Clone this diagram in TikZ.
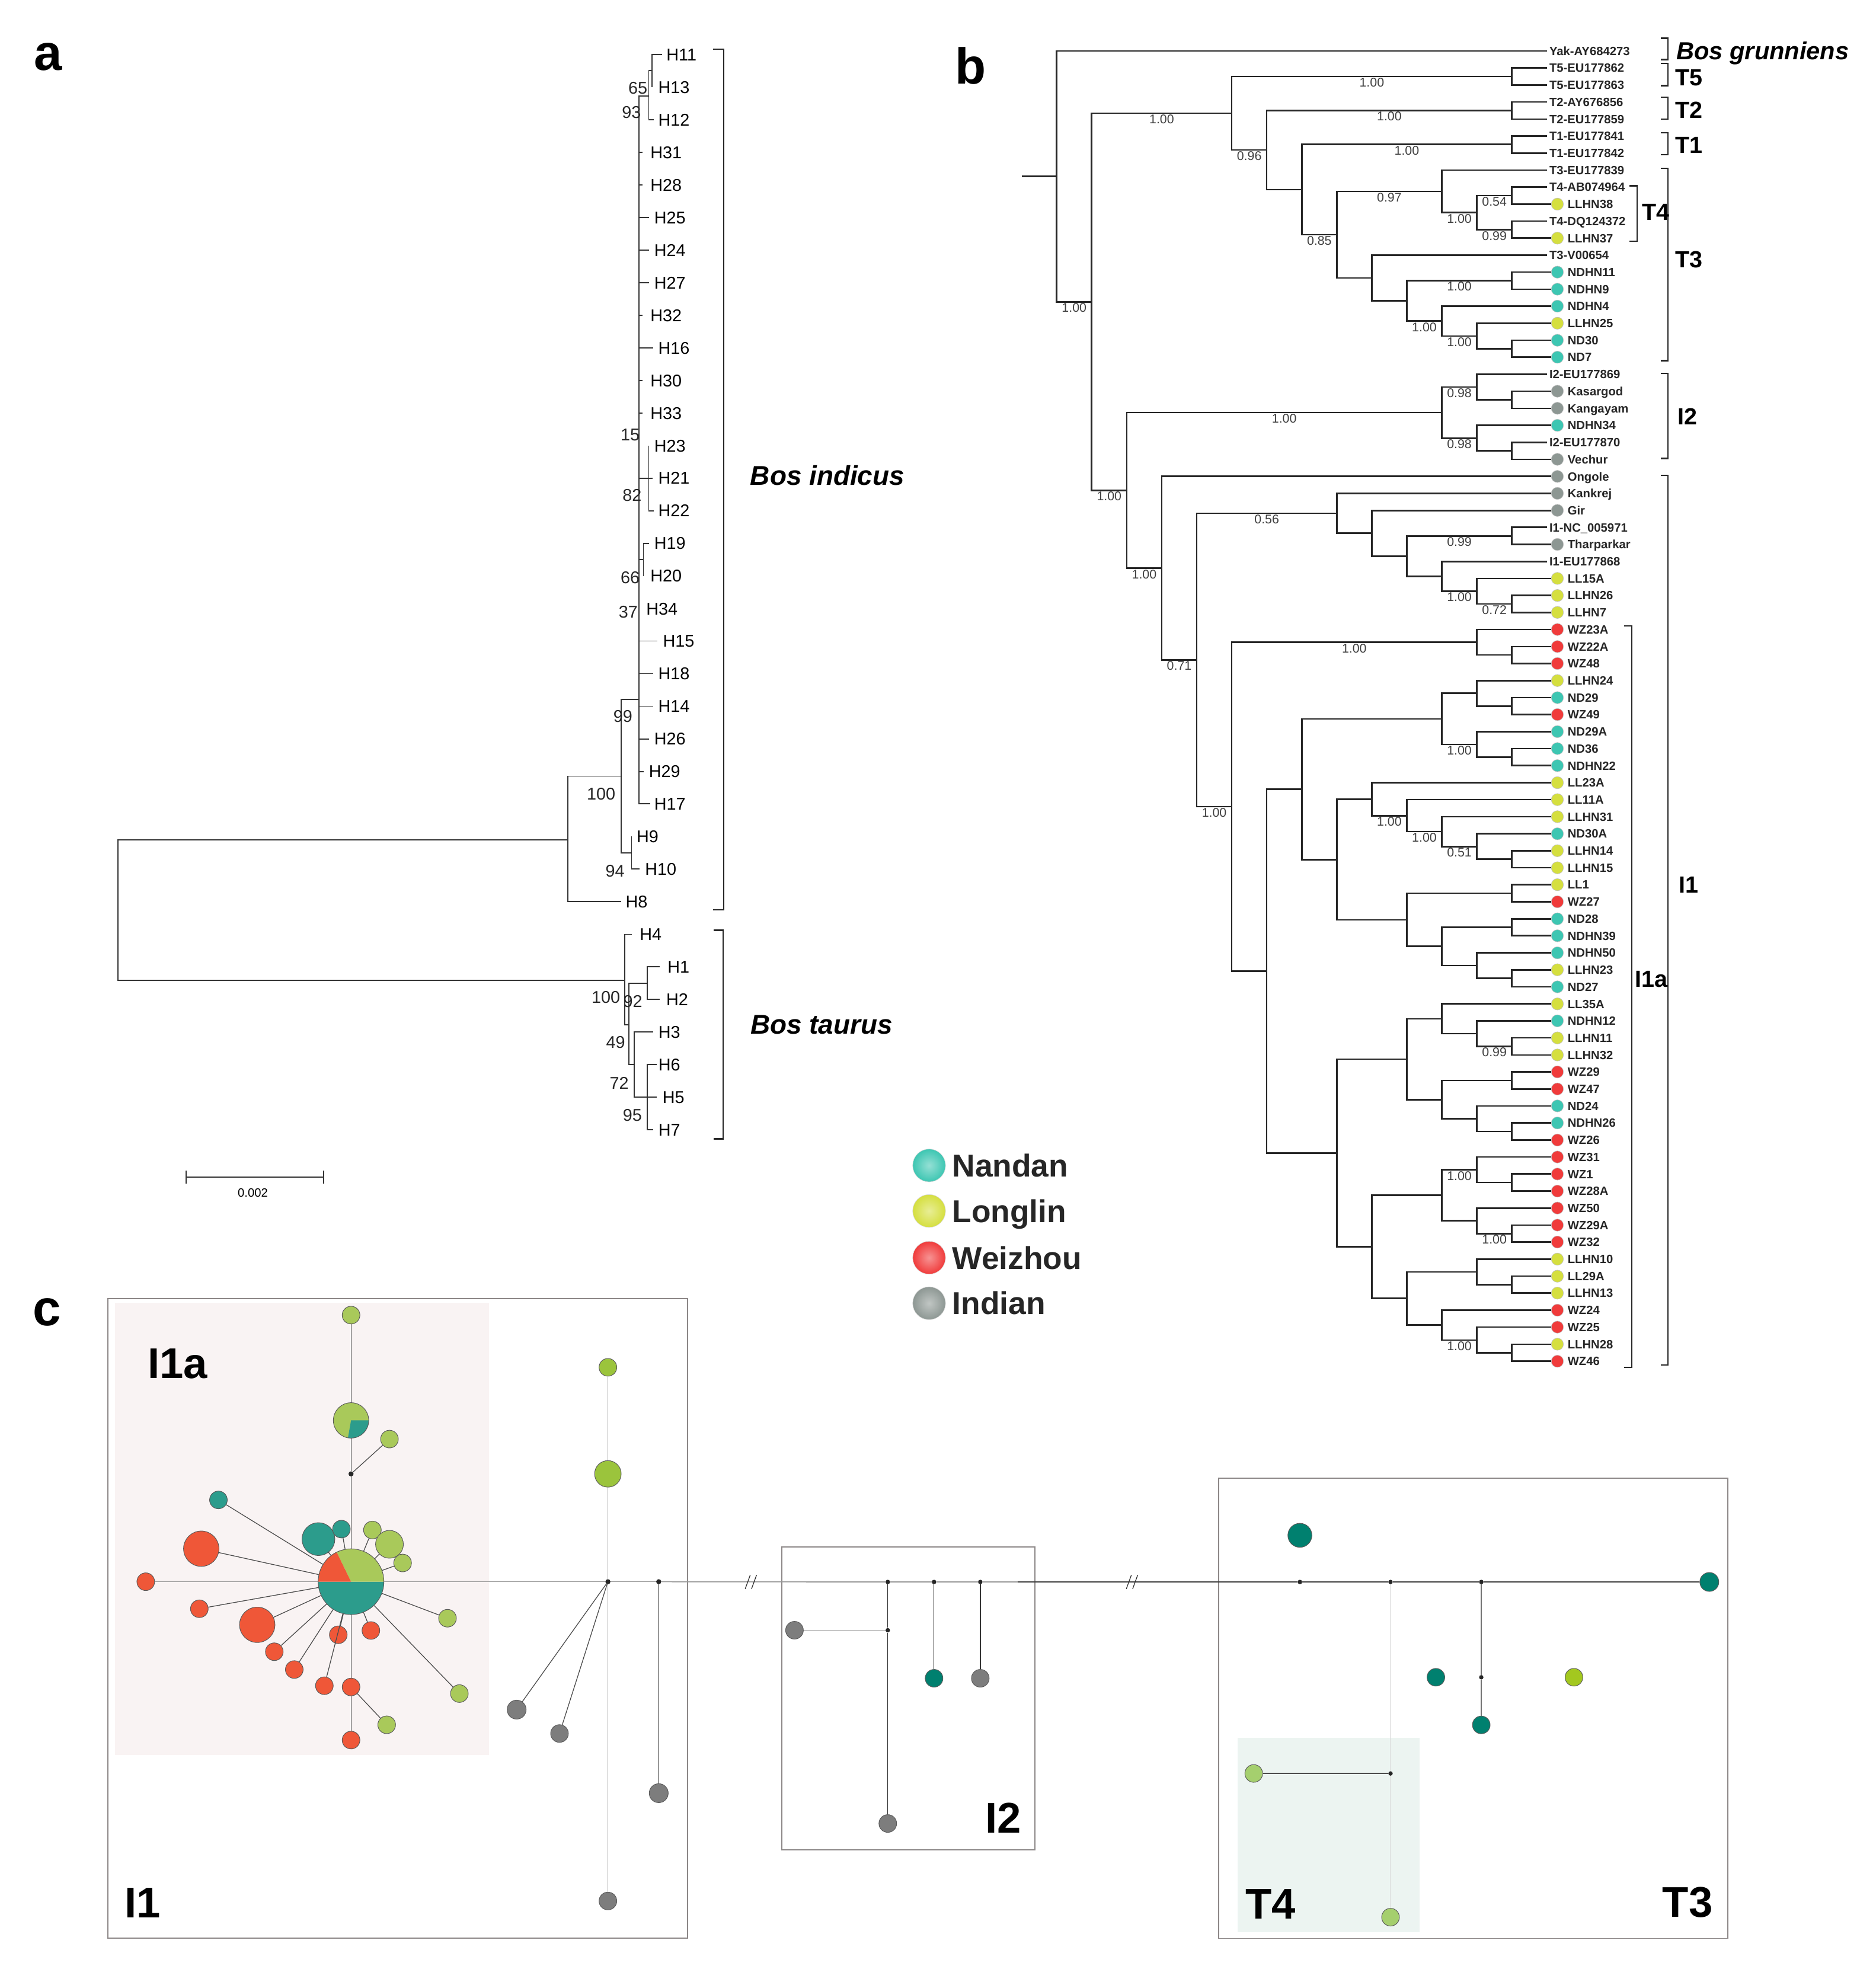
\documentclass[tikz,border=0pt]{standalone}
\usepackage{fontspec}
\setmainfont{Liberation Sans}
\usetikzlibrary{positioning}
\definecolor{nandan}{HTML}{3DC6B2}
\definecolor{longlin}{HTML}{D5DF3F}
\definecolor{weizhou}{HTML}{F03B3B}
\definecolor{indian}{HTML}{8D9793}
\definecolor{nettealc}{HTML}{2C9C8C}
\definecolor{netgreen}{HTML}{A9C95A}
\definecolor{netred}{HTML}{EF5738}
\definecolor{netgray}{HTML}{7D7D7D}
\definecolor{netlime}{HTML}{9BC43C}
\definecolor{netteal}{HTML}{00806F}
\definecolor{netyel}{HTML}{A3C81F}
\definecolor{netpale}{HTML}{A5CF6E}
\definecolor{pinkbg}{HTML}{F9F3F3}
\definecolor{mintbg}{HTML}{ECF4F1}
\definecolor{framegray}{HTML}{8C8787}
\tikzset{
  branch/.style={line width=1.25pt, draw=black!85},
  brancha/.style={line width=0.9pt, draw=black!80},
  support/.style={below, inner sep=0.6pt, font={\fontsize{10}{10}\selectfont}, text=black!75},
  leaf/.style={anchor=west, inner xsep=1.5pt, inner ysep=0pt, text height=6.8pt, text depth=0pt, text=black!85, font={\fontsize{9.5}{9.5}\selectfont\bfseries}},
  tdot/.style={circle, inner sep=0pt, minimum size=9.6pt, draw=black!25, line width=0.3pt},
  hlab/.style={anchor=west, inner sep=0pt, text height=9.7pt, text depth=0pt, font={\fontsize{13.5}{13.5}\selectfont}},
  boot/.style={inner sep=0pt, text height=9.7pt, text depth=0pt, text=black!85, font={\fontsize{13.5}{13.5}\selectfont}},
  clade/.style={line width=1.1pt, draw=black!85},
  cladelab/.style={anchor=base west, inner sep=0pt, font={\fontsize{18.5}{18.5}\selectfont\bfseries}},
  species/.style={anchor=base west, inner sep=0pt, font={\fontsize{21.5}{21.5}\selectfont\bfseries\itshape}},
  panel/.style={inner sep=0pt, font={\fontsize{40}{40}\selectfont\bfseries}},
  legdot/.style={circle, inner sep=0pt, minimum size=26pt, draw=black!15, line width=0.3pt},
  legtext/.style={inner sep=0pt, text height=18pt, text depth=0pt, text=black!85, font={\fontsize{25}{25}\selectfont\bfseries}},
  hap/.style={circle, inner sep=0pt, draw=black!65, line width=0.45pt},
  pienode/.style={circle, inner sep=0pt},
  mvec/.style={circle, fill=black!85, inner sep=0pt, minimum size=4pt},
  netl/.style={draw=black!70, line width=0.6pt},
  mainl/.style={draw=black!40, line width=0.8pt},
  darkl/.style={draw=black!75, line width=1.2pt},
  palel/.style={draw=black!15, line width=0.5pt},
  framebox/.style={draw=framegray, line width=0.9pt},
  reglab/.style={inner sep=0pt, font={\fontsize{34}{34}\selectfont\bfseries}},
}
\begin{document}
\begin{tikzpicture}[x=1pt,y=-1pt]
\useasboundingbox (0,0) rectangle (1484,1568);
\fill[white] (0,0) rectangle (1484,1568);

% panel letters
\node[panel] (pa) at (38,45) {a};
\node[panel] (pb) at (768,52) {b};
\node[panel] (pc) at (37,1038) {c};

% ---------------- tree a ----------------
\coordinate (ar) at (93.3,720.2);
\coordinate (ai) at (449.3,664.5);
\coordinate (a99) at (491.2,614.0);
\coordinate (am) at (505.5,553.5);
\coordinate (ab) at (513.2,75.9);
\coordinate (aa) at (515.9,56.0);
\coordinate (ad) at (513.2,378.2);
\coordinate (ae) at (509.0,442.7);
\coordinate (a94) at (499.6,674.7);
\coordinate (at) at (494.4,775.6);
\coordinate (at2) at (497.7,810.8);
\coordinate (at3) at (512.1,777.8);
\coordinate (at4) at (501.6,842.3);
\coordinate (at5) at (512.1,868.1);
\coordinate (e11) at (523.7,43.1);
\coordinate (e13) at (515.9,68.9);
\coordinate (e12) at (517.4,94.7);
\coordinate (e31) at (508.4,120.4);
\coordinate (e28) at (508.4,146.2);
\coordinate (e25) at (513.6,172.0);
\coordinate (e24) at (513.6,197.8);
\coordinate (e27) at (513.6,223.6);
\coordinate (e32) at (508.4,249.3);
\coordinate (e16) at (516.8,275.1);
\coordinate (e30) at (508.4,300.9);
\coordinate (e33) at (508.4,326.7);
\coordinate (e23) at (513.2,352.5);
\coordinate (e21) at (516.3,378.2);
\coordinate (e22) at (517.4,404.0);
\coordinate (e19) at (513.6,429.8);
\coordinate (e20) at (509.0,455.6);
\coordinate (e34) at (505.5,481.4);
\coordinate (e15) at (520.1,507.1);
\coordinate (e18) at (516.8,532.9);
\coordinate (e14) at (516.8,558.7);
\coordinate (e26) at (513.6,584.5);
\coordinate (e29) at (509.0,610.3);
\coordinate (e17) at (514.2,636.0);
\coordinate (e9) at (499.6,661.8);
\coordinate (e10) at (505.9,687.6);
\coordinate (e8) at (491.2,713.4);
\coordinate (e4) at (500.0,739.2);
\coordinate (e1) at (521.7,764.9);
\coordinate (e2) at (521.7,790.7);
\coordinate (e3) at (516.9,816.5);
\coordinate (e6) at (519.3,842.3);
\coordinate (e5) at (519.3,868.1);
\coordinate (e7) at (516.9,893.8);

\draw[brancha] (ar) |- (ai) (ar) |- (at);
\draw[brancha] (ai) |- (a99) (ai) |- (e8);
\draw[brancha] (a99) |- (am) (a99) |- (a94);
\draw[brancha] (a94) |- (e9) (a94) |- (e10);
\draw[brancha] (am) |- (ab) (am) |- (e31) (am) |- (e28) (am) |- (e25) (am) |- (e24) (am) |- (e27) (am) |- (e32) (am) |- (e16) (am) |- (e30) (am) |- (e33) (am) |- (ad) (am) |- (ae) (am) |- (e34) (am) |- (e15) (am) |- (e18) (am) |- (e14) (am) |- (e26) (am) |- (e29) (am) |- (e17);
\draw[brancha] (ab) |- (aa) (ab) |- (e12);
\draw[brancha] (aa) |- (e11) (aa) |- (e13);
\draw[brancha] (ad) |- (e23) (ad) -- (e21) (ad) |- (e22);
\draw[brancha] (ae) |- (e19) (ae) |- (e20);
\draw[brancha] (at) |- (e4) (at) |- (at2);
\draw[brancha] (at2) |- (at3) (at2) |- (at4);
\draw[brancha] (at3) |- (e1) (at3) |- (e2);
\draw[brancha] (at4) |- (e3) (at4) |- (at5);
\draw[brancha] (at5) |- (e6) (at5) -- (e5) (at5) |- (e7);

\node[hlab] (h11) at (527,43.1) {H11};
\node[hlab] (h13) at (520.6,68.9) {H13};
\node[hlab] (h12) at (520.6,94.7) {H12};
\node[hlab] (h31) at (514.3,120.4) {H31};
\node[hlab] (h28) at (514.3,146.2) {H28};
\node[hlab] (h25) at (517.4,172.0) {H25};
\node[hlab] (h24) at (517.4,197.8) {H24};
\node[hlab] (h27) at (517.4,223.6) {H27};
\node[hlab] (h32) at (514.3,249.3) {H32};
\node[hlab] (h16) at (520.6,275.1) {H16};
\node[hlab] (h30) at (514.3,300.9) {H30};
\node[hlab] (h33) at (514.3,326.7) {H33};
\node[hlab] (h23) at (517.4,352.5) {H23};
\node[hlab] (h21) at (520.6,378.2) {H21};
\node[hlab] (h22) at (520.6,404.0) {H22};
\node[hlab] (h19) at (517.4,429.8) {H19};
\node[hlab] (h20) at (514.3,455.6) {H20};
\node[hlab] (h34) at (511.1,481.4) {H34};
\node[hlab] (h15) at (524.3,507.1) {H15};
\node[hlab] (h18) at (520.6,532.9) {H18};
\node[hlab] (h14) at (520.6,558.7) {H14};
\node[hlab] (h26) at (517.4,584.5) {H26};
\node[hlab] (h29) at (513.2,610.3) {H29};
\node[hlab] (h17) at (517.4,636.0) {H17};
\node[hlab] (h9) at (503.4,661.8) {H9};
\node[hlab] (h10) at (510.1,687.6) {H10};
\node[hlab] (h8) at (494.8,713.4) {H8};
\node[hlab] (h4) at (505.9,739.2) {H4};
\node[hlab] (h1) at (527.9,764.9) {H1};
\node[hlab] (h2) at (526.9,790.7) {H2};
\node[hlab] (h3) at (520.7,816.5) {H3};
\node[hlab] (h6) at (520.7,842.3) {H6};
\node[hlab] (h5) at (524,868.1) {H5};
\node[hlab] (h7) at (520.7,893.8) {H7};

\node[boot] (b65) at (504.6,69.6) {65};
\node[boot] (b93) at (499.5,88.5) {93};
\node[boot] (b15) at (498.5,343.6) {15};
\node[boot] (b82) at (500,391.5) {82};
\node[boot] (b66) at (498.5,456.6) {66};
\node[boot] (b37) at (497,484.1) {37};
\node[boot] (b99) at (492.8,566.6) {99};
\node[boot] (b100i) at (475.5,627.7) {100};
\node[boot] (b94) at (486.5,688.8) {94};
\node[boot] (b100t) at (479.3,788.8) {100};
\node[boot] (b92) at (500.6,792) {92};
\node[boot] (b49) at (487,824.4) {49};
\node[boot] (b72) at (489.8,856.9) {72};
\node[boot] (b95) at (500.2,882) {95};

\draw[clade] (564.1,39) -- (572.5,39) -- (572.5,719.8) -- (564.1,719.8);
\draw[clade] (564.7,735.9) -- (572,735.9) -- (572,900.9) -- (564.7,900.9);
\node[species] (bind) at (593.4,383.6) {Bos indicus};
\node[species] (btau) at (593.5,818.2) {Bos taurus};

% scale bar
\draw[brancha] (147.4,931.2) -- (256,931.2);
\draw[brancha] (147.4,926) -- (147.4,936.4);
\draw[brancha] (256,926) -- (256,936.4);
\node[inner sep=0pt, font={\fontsize{9.5}{9.5}\selectfont}] (sbar) at (200,943.5) {0.002};

% ---------------- tree b ----------------
\node[leaf] (l1) at (1224,40.3) {Yak-AY684273};
\node[leaf] (l2) at (1224,53.8) {T5-EU177862};
\node[leaf] (l3) at (1224,67.2) {T5-EU177863};
\node[leaf] (l4) at (1224,80.7) {T2-AY676856};
\node[leaf] (l5) at (1224,94.2) {T2-EU177859};
\node[leaf] (l6) at (1224,107.6) {T1-EU177841};
\node[leaf] (l7) at (1224,121.1) {T1-EU177842};
\node[leaf] (l8) at (1224,134.5) {T3-EU177839};
\node[leaf] (l9) at (1224,148.0) {T4-AB074964};
\node[tdot,fill=longlin] (l10) at (1232,161.5) {}; \node[leaf,right=1.5pt of l10] {LLHN38};
\node[leaf] (l11) at (1224,174.9) {T4-DQ124372};
\node[tdot,fill=longlin] (l12) at (1232,188.4) {}; \node[leaf,right=1.5pt of l12] {LLHN37};
\node[leaf] (l13) at (1224,201.8) {T3-V00654};
\node[tdot,fill=nandan] (l14) at (1232,215.3) {}; \node[leaf,right=1.5pt of l14] {NDHN11};
\node[tdot,fill=nandan] (l15) at (1232,228.8) {}; \node[leaf,right=1.5pt of l15] {NDHN9};
\node[tdot,fill=nandan] (l16) at (1232,242.2) {}; \node[leaf,right=1.5pt of l16] {NDHN4};
\node[tdot,fill=longlin] (l17) at (1232,255.7) {}; \node[leaf,right=1.5pt of l17] {LLHN25};
\node[tdot,fill=nandan] (l18) at (1232,269.2) {}; \node[leaf,right=1.5pt of l18] {ND30};
\node[tdot,fill=nandan] (l19) at (1232,282.6) {}; \node[leaf,right=1.5pt of l19] {ND7};
\node[leaf] (l20) at (1224,296.1) {I2-EU177869};
\node[tdot,fill=indian] (l21) at (1232,309.5) {}; \node[leaf,right=1.5pt of l21] {Kasargod};
\node[tdot,fill=indian] (l22) at (1232,323.0) {}; \node[leaf,right=1.5pt of l22] {Kangayam};
\node[tdot,fill=nandan] (l23) at (1232,336.5) {}; \node[leaf,right=1.5pt of l23] {NDHN34};
\node[leaf] (l24) at (1224,349.9) {I2-EU177870};
\node[tdot,fill=indian] (l25) at (1232,363.4) {}; \node[leaf,right=1.5pt of l25] {Vechur};
\node[tdot,fill=indian] (l26) at (1232,376.9) {}; \node[leaf,right=1.5pt of l26] {Ongole};
\node[tdot,fill=indian] (l27) at (1232,390.3) {}; \node[leaf,right=1.5pt of l27] {Kankrej};
\node[tdot,fill=indian] (l28) at (1232,403.8) {}; \node[leaf,right=1.5pt of l28] {Gir};
\node[leaf] (l29) at (1224,417.2) {I1-NC\_005971};
\node[tdot,fill=indian] (l30) at (1232,430.7) {}; \node[leaf,right=1.5pt of l30] {Tharparkar};
\node[leaf] (l31) at (1224,444.2) {I1-EU177868};
\node[tdot,fill=longlin] (l32) at (1232,457.6) {}; \node[leaf,right=1.5pt of l32] {LL15A};
\node[tdot,fill=longlin] (l33) at (1232,471.1) {}; \node[leaf,right=1.5pt of l33] {LLHN26};
\node[tdot,fill=longlin] (l34) at (1232,484.5) {}; \node[leaf,right=1.5pt of l34] {LLHN7};
\node[tdot,fill=weizhou] (l35) at (1232,498.0) {}; \node[leaf,right=1.5pt of l35] {WZ23A};
\node[tdot,fill=weizhou] (l36) at (1232,511.5) {}; \node[leaf,right=1.5pt of l36] {WZ22A};
\node[tdot,fill=weizhou] (l37) at (1232,524.9) {}; \node[leaf,right=1.5pt of l37] {WZ48};
\node[tdot,fill=longlin] (l38) at (1232,538.4) {}; \node[leaf,right=1.5pt of l38] {LLHN24};
\node[tdot,fill=nandan] (l39) at (1232,551.9) {}; \node[leaf,right=1.5pt of l39] {ND29};
\node[tdot,fill=weizhou] (l40) at (1232,565.3) {}; \node[leaf,right=1.5pt of l40] {WZ49};
\node[tdot,fill=nandan] (l41) at (1232,578.8) {}; \node[leaf,right=1.5pt of l41] {ND29A};
\node[tdot,fill=nandan] (l42) at (1232,592.2) {}; \node[leaf,right=1.5pt of l42] {ND36};
\node[tdot,fill=nandan] (l43) at (1232,605.7) {}; \node[leaf,right=1.5pt of l43] {NDHN22};
\node[tdot,fill=longlin] (l44) at (1232,619.2) {}; \node[leaf,right=1.5pt of l44] {LL23A};
\node[tdot,fill=longlin] (l45) at (1232,632.6) {}; \node[leaf,right=1.5pt of l45] {LL11A};
\node[tdot,fill=longlin] (l46) at (1232,646.1) {}; \node[leaf,right=1.5pt of l46] {LLHN31};
\node[tdot,fill=nandan] (l47) at (1232,659.6) {}; \node[leaf,right=1.5pt of l47] {ND30A};
\node[tdot,fill=longlin] (l48) at (1232,673.0) {}; \node[leaf,right=1.5pt of l48] {LLHN14};
\node[tdot,fill=longlin] (l49) at (1232,686.5) {}; \node[leaf,right=1.5pt of l49] {LLHN15};
\node[tdot,fill=longlin] (l50) at (1232,699.9) {}; \node[leaf,right=1.5pt of l50] {LL1};
\node[tdot,fill=weizhou] (l51) at (1232,713.4) {}; \node[leaf,right=1.5pt of l51] {WZ27};
\node[tdot,fill=nandan] (l52) at (1232,726.9) {}; \node[leaf,right=1.5pt of l52] {ND28};
\node[tdot,fill=nandan] (l53) at (1232,740.3) {}; \node[leaf,right=1.5pt of l53] {NDHN39};
\node[tdot,fill=nandan] (l54) at (1232,753.8) {}; \node[leaf,right=1.5pt of l54] {NDHN50};
\node[tdot,fill=longlin] (l55) at (1232,767.2) {}; \node[leaf,right=1.5pt of l55] {LLHN23};
\node[tdot,fill=nandan] (l56) at (1232,780.7) {}; \node[leaf,right=1.5pt of l56] {ND27};
\node[tdot,fill=longlin] (l57) at (1232,794.2) {}; \node[leaf,right=1.5pt of l57] {LL35A};
\node[tdot,fill=nandan] (l58) at (1232,807.6) {}; \node[leaf,right=1.5pt of l58] {NDHN12};
\node[tdot,fill=longlin] (l59) at (1232,821.1) {}; \node[leaf,right=1.5pt of l59] {LLHN11};
\node[tdot,fill=longlin] (l60) at (1232,834.6) {}; \node[leaf,right=1.5pt of l60] {LLHN32};
\node[tdot,fill=weizhou] (l61) at (1232,848.0) {}; \node[leaf,right=1.5pt of l61] {WZ29};
\node[tdot,fill=weizhou] (l62) at (1232,861.5) {}; \node[leaf,right=1.5pt of l62] {WZ47};
\node[tdot,fill=nandan] (l63) at (1232,874.9) {}; \node[leaf,right=1.5pt of l63] {ND24};
\node[tdot,fill=nandan] (l64) at (1232,888.4) {}; \node[leaf,right=1.5pt of l64] {NDHN26};
\node[tdot,fill=weizhou] (l65) at (1232,901.9) {}; \node[leaf,right=1.5pt of l65] {WZ26};
\node[tdot,fill=weizhou] (l66) at (1232,915.3) {}; \node[leaf,right=1.5pt of l66] {WZ31};
\node[tdot,fill=weizhou] (l67) at (1232,928.8) {}; \node[leaf,right=1.5pt of l67] {WZ1};
\node[tdot,fill=weizhou] (l68) at (1232,942.3) {}; \node[leaf,right=1.5pt of l68] {WZ28A};
\node[tdot,fill=weizhou] (l69) at (1232,955.7) {}; \node[leaf,right=1.5pt of l69] {WZ50};
\node[tdot,fill=weizhou] (l70) at (1232,969.2) {}; \node[leaf,right=1.5pt of l70] {WZ29A};
\node[tdot,fill=weizhou] (l71) at (1232,982.6) {}; \node[leaf,right=1.5pt of l71] {WZ32};
\node[tdot,fill=longlin] (l72) at (1232,996.1) {}; \node[leaf,right=1.5pt of l72] {LLHN10};
\node[tdot,fill=longlin] (l73) at (1232,1009.6) {}; \node[leaf,right=1.5pt of l73] {LL29A};
\node[tdot,fill=longlin] (l74) at (1232,1023.0) {}; \node[leaf,right=1.5pt of l74] {LLHN13};
\node[tdot,fill=weizhou] (l75) at (1232,1036.5) {}; \node[leaf,right=1.5pt of l75] {WZ24};
\node[tdot,fill=weizhou] (l76) at (1232,1049.9) {}; \node[leaf,right=1.5pt of l76] {WZ25};
\node[tdot,fill=longlin] (l77) at (1232,1063.4) {}; \node[leaf,right=1.5pt of l77] {LLHN28};
\node[tdot,fill=weizhou] (l78) at (1232,1076.9) {}; \node[leaf,right=1.5pt of l78] {WZ46};

\coordinate (stub) at (808.4,139.5);
\coordinate (root) at (835.9,139.5);
\coordinate (n1) at (863.6,238.8);
\coordinate (nt) at (974.4,89.6);
\coordinate (t5) at (1196,60.5);
\coordinate (nt2) at (1002.1,118.7);
\coordinate (t2) at (1196,87.4);
\coordinate (nt3) at (1029.8,150.0);
\coordinate (t1) at (1196,114.3);
\coordinate (nt4) at (1057.5,185.7);
\coordinate (nt5) at (1140.6,151.4);
\coordinate (nt7) at (1168.3,168.2);
\coordinate (nt8) at (1196,154.7);
\coordinate (nt9) at (1196,181.7);
\coordinate (nt6) at (1085.2,219.9);
\coordinate (nt10) at (1112.9,238.0);
\coordinate (nt11) at (1196,222.0);
\coordinate (nt12) at (1140.6,254.0);
\coordinate (nt13) at (1168.3,265.8);
\coordinate (nt14) at (1196,275.9);
\coordinate (ni) at (891.3,387.9);
\coordinate (ni2) at (1140.6,326.4);
\coordinate (na) at (1168.3,306.2);
\coordinate (na2) at (1196,316.3);
\coordinate (nb) at (1168.3,346.6);
\coordinate (nb2) at (1196,356.7);
\coordinate (ni1) at (919.0,449.5);
\coordinate (ni3) at (946.7,522.1);
\coordinate (nk) at (1057.5,406.1);
\coordinate (nk2) at (1085.2,421.9);
\coordinate (nk3) at (1112.9,440.0);
\coordinate (nk4) at (1196,424.0);
\coordinate (nk5) at (1140.6,455.9);
\coordinate (nk6) at (1168.3,467.7);
\coordinate (nk7) at (1196,477.8);
\coordinate (nw) at (974.4,638.2);
\coordinate (nw1) at (1168.3,508.1);
\coordinate (nw1b) at (1196,518.2);
\coordinate (nw2) at (1002.1,768.3);
\coordinate (nw3) at (1029.8,624.3);
\coordinate (nx) at (1140.6,568.7);
\coordinate (nx1) at (1168.3,548.5);
\coordinate (nx1b) at (1196,558.6);
\coordinate (nx2) at (1168.3,588.9);
\coordinate (nx2b) at (1196,599.0);
\coordinate (ny) at (1057.5,680.0);
\coordinate (ny1) at (1085.2,632.2);
\coordinate (ny1a) at (1112.9,645.3);
\coordinate (ny1b) at (1140.6,657.9);
\coordinate (ny1c) at (1168.3,669.7);
\coordinate (ny1d) at (1196,679.7);
\coordinate (ny2) at (1112.9,727.7);
\coordinate (ny2a) at (1196,706.7);
\coordinate (ny2b) at (1140.6,748.7);
\coordinate (ny2c) at (1196,733.6);
\coordinate (ny2d) at (1168.3,763.9);
\coordinate (ny2e) at (1196,774.0);
\coordinate (nw4) at (1057.5,912.2);
\coordinate (nz) at (1112.9,837.9);
\coordinate (nz1) at (1140.6,806.0);
\coordinate (nz1a) at (1168.3,817.7);
\coordinate (nz1b) at (1196,827.8);
\coordinate (nz2) at (1140.6,869.9);
\coordinate (nz2a) at (1196,854.8);
\coordinate (nz2b) at (1168.3,885.0);
\coordinate (nz2c) at (1196,895.1);
\coordinate (nv) at (1085.2,986.4);
\coordinate (nv1) at (1140.6,945.6);
\coordinate (nv1a) at (1168.3,925.4);
\coordinate (nv1c) at (1196,935.5);
\coordinate (nv1b) at (1168.3,965.8);
\coordinate (nv1d) at (1196,975.9);
\coordinate (nv2) at (1112.9,1027.2);
\coordinate (nv2a) at (1168.3,1006.2);
\coordinate (nv2c) at (1196,1016.3);
\coordinate (nv2b) at (1140.6,1048.3);
\coordinate (nv2d) at (1168.3,1060.1);
\coordinate (nv2e) at (1196,1070.1);

\draw[branch] (stub) -- (root);
\draw[branch] (root) |- (l1.west) (root) |- (n1) node[support,pos=.75]{1.00};
\draw[branch] (n1) |- (nt) node[support,pos=.75]{1.00} (n1) |- (ni) node[support,pos=.75]{1.00};
\draw[branch] (nt) |- (t5) node[support,pos=.75]{1.00} (nt) |- (nt2) node[support,pos=.75]{0.96};
\draw[branch] (t5) |- (l2.west) (t5) |- (l3.west);
\draw[branch] (nt2) |- (t2) node[support,pos=.75]{1.00} (nt2) |- (nt3);
\draw[branch] (t2) |- (l4.west) (t2) |- (l5.west);
\draw[branch] (nt3) |- (t1) node[support,pos=.75]{1.00} (nt3) |- (nt4) node[support,pos=.75]{0.85};
\draw[branch] (t1) |- (l6.west) (t1) |- (l7.west);
\draw[branch] (nt4) |- (nt5) node[support,pos=.75]{0.97} (nt4) |- (nt6);
\draw[branch] (nt5) |- (l8.west) (nt5) |- (nt7) node[support,pos=.75]{1.00};
\draw[branch] (nt7) |- (nt8) node[support,pos=.75]{0.54} (nt7) |- (nt9) node[support,pos=.75]{0.99};
\draw[branch] (nt8) |- (l9.west) (nt8) |- (l10.west);
\draw[branch] (nt9) |- (l11.west) (nt9) |- (l12.west);
\draw[branch] (nt6) |- (l13.west) (nt6) |- (nt10);
\draw[branch] (nt10) |- (nt11) node[support,pos=.75]{1.00} (nt10) |- (nt12) node[support,pos=.75]{1.00};
\draw[branch] (nt11) |- (l14.west) (nt11) |- (l15.west);
\draw[branch] (nt12) |- (l16.west) (nt12) |- (nt13) node[support,pos=.75]{1.00};
\draw[branch] (nt13) |- (l17.west) (nt13) |- (nt14);
\draw[branch] (nt14) |- (l18.west) (nt14) |- (l19.west);
\draw[branch] (ni) |- (ni2) node[support,pos=.75]{1.00} (ni) |- (ni1) node[support,pos=.75]{1.00};
\draw[branch] (ni2) |- (na) node[support,pos=.75]{0.98} (ni2) |- (nb) node[support,pos=.75]{0.98};
\draw[branch] (na) |- (l20.west) (na) |- (na2);
\draw[branch] (na2) |- (l21.west) (na2) |- (l22.west);
\draw[branch] (nb) |- (l23.west) (nb) |- (nb2);
\draw[branch] (nb2) |- (l24.west) (nb2) |- (l25.west);
\draw[branch] (ni1) |- (l26.west) (ni1) |- (ni3) node[support,pos=.75]{0.71};
\draw[branch] (ni3) |- (nk) node[support,pos=.75]{0.56} (ni3) |- (nw) node[support,pos=.75]{1.00};
\draw[branch] (nk) |- (l27.west) (nk) |- (nk2);
\draw[branch] (nk2) |- (l28.west) (nk2) |- (nk3);
\draw[branch] (nk3) |- (nk4) node[support,pos=.75]{0.99} (nk3) |- (nk5);
\draw[branch] (nk4) |- (l29.west) (nk4) |- (l30.west);
\draw[branch] (nk5) |- (l31.west) (nk5) |- (nk6) node[support,pos=.75]{1.00};
\draw[branch] (nk6) |- (l32.west) (nk6) |- (nk7) node[support,pos=.75]{0.72};
\draw[branch] (nk7) |- (l33.west) (nk7) |- (l34.west);
\draw[branch] (nw) |- (nw1) node[support,pos=.75]{1.00} (nw) |- (nw2);
\draw[branch] (nw1) |- (l35.west) (nw1) |- (nw1b);
\draw[branch] (nw1b) |- (l36.west) (nw1b) |- (l37.west);
\draw[branch] (nw2) |- (nw3) (nw2) |- (nw4);
\draw[branch] (nw3) |- (nx) (nw3) |- (ny);
\draw[branch] (nx) |- (nx1) (nx) |- (nx2) node[support,pos=.75]{1.00};
\draw[branch] (nx1) |- (l38.west) (nx1) |- (nx1b);
\draw[branch] (nx1b) |- (l39.west) (nx1b) |- (l40.west);
\draw[branch] (nx2) |- (l41.west) (nx2) |- (nx2b);
\draw[branch] (nx2b) |- (l42.west) (nx2b) |- (l43.west);
\draw[branch] (ny) |- (ny1) (ny) |- (ny2);
\draw[branch] (ny1) |- (l44.west) (ny1) |- (ny1a) node[support,pos=.75]{1.00};
\draw[branch] (ny1a) |- (l45.west) (ny1a) |- (ny1b) node[support,pos=.75]{1.00};
\draw[branch] (ny1b) |- (l46.west) (ny1b) |- (ny1c) node[support,pos=.75]{0.51};
\draw[branch] (ny1c) |- (l47.west) (ny1c) |- (ny1d);
\draw[branch] (ny1d) |- (l48.west) (ny1d) |- (l49.west);
\draw[branch] (ny2) |- (ny2a) (ny2) |- (ny2b);
\draw[branch] (ny2a) |- (l50.west) (ny2a) |- (l51.west);
\draw[branch] (ny2b) |- (ny2c) (ny2b) |- (ny2d);
\draw[branch] (ny2c) |- (l52.west) (ny2c) |- (l53.west);
\draw[branch] (ny2d) |- (l54.west) (ny2d) |- (ny2e);
\draw[branch] (ny2e) |- (l55.west) (ny2e) |- (l56.west);
\draw[branch] (nw4) |- (nz) (nw4) |- (nv);
\draw[branch] (nz) |- (nz1) (nz) |- (nz2);
\draw[branch] (nz1) |- (l57.west) (nz1) |- (nz1a);
\draw[branch] (nz1a) |- (l58.west) (nz1a) |- (nz1b) node[support,pos=.75]{0.99};
\draw[branch] (nz1b) |- (l59.west) (nz1b) |- (l60.west);
\draw[branch] (nz2) |- (nz2a) (nz2) |- (nz2b);
\draw[branch] (nz2a) |- (l61.west) (nz2a) |- (l62.west);
\draw[branch] (nz2b) |- (l63.west) (nz2b) |- (nz2c);
\draw[branch] (nz2c) |- (l64.west) (nz2c) |- (l65.west);
\draw[branch] (nv) |- (nv1) (nv) |- (nv2);
\draw[branch] (nv1) |- (nv1a) node[support,pos=.75]{1.00} (nv1) |- (nv1b);
\draw[branch] (nv1a) |- (l66.west) (nv1a) |- (nv1c);
\draw[branch] (nv1c) |- (l67.west) (nv1c) |- (l68.west);
\draw[branch] (nv1b) |- (l69.west) (nv1b) |- (nv1d) node[support,pos=.75]{1.00};
\draw[branch] (nv1d) |- (l70.west) (nv1d) |- (l71.west);
\draw[branch] (nv2) |- (nv2a) (nv2) |- (nv2b);
\draw[branch] (nv2a) |- (l72.west) (nv2a) |- (nv2c);
\draw[branch] (nv2c) |- (l73.west) (nv2c) |- (l74.west);
\draw[branch] (nv2b) |- (l75.west) (nv2b) |- (nv2d) node[support,pos=.75]{1.00};
\draw[branch] (nv2d) |- (l76.west) (nv2d) |- (nv2e);
\draw[branch] (nv2e) |- (l77.west) (nv2e) |- (l78.west);

% clade brackets
\draw[clade] (1314,30.3) -- (1319.5,30.3) -- (1319.5,47.2) -- (1314,47.2);
\draw[clade] (1314,50.3) -- (1319.5,50.3) -- (1319.5,67.7) -- (1314,67.7);
\draw[clade] (1314,76.9) -- (1319.5,76.9) -- (1319.5,94.2) -- (1314,94.2);
\draw[clade] (1314,105) -- (1319.5,105) -- (1319.5,122.3) -- (1314,122.3);
\draw[clade] (1314,133.1) -- (1319.5,133.1) -- (1319.5,285.4) -- (1314,285.4);
\draw[clade] (1289,147) -- (1295,147) -- (1295,190.9) -- (1289,190.9);
\draw[clade] (1314,295.5) -- (1319.5,295.5) -- (1319.5,362.7) -- (1314,362.7);
\draw[clade] (1314,376) -- (1319.5,376) -- (1319.5,1080) -- (1314,1080);
\draw[clade] (1285,495.3) -- (1291,495.3) -- (1291,1081.6) -- (1285,1081.6);
\node[species,font={\fontsize{19.5}{19.5}\selectfont\bfseries\itshape}] (cbg) at (1326,47) {Bos grunniens};
\node[cladelab] (ct5) at (1325,67.7) {T5};
\node[cladelab] (ct2) at (1325,93.5) {T2};
\node[cladelab] (ct1) at (1325,121) {T1};
\node[cladelab] (ct4) at (1298.9,174.4) {T4};
\node[cladelab] (ct3) at (1325,211.5) {T3};
\node[cladelab] (ci2) at (1327,336) {I2};
\node[cladelab] (ci1) at (1328,706.6) {I1};
\node[cladelab] (ci1a) at (1293.2,781) {I1a};

% legend
\node[legdot,shading=radial,inner color=nandan!55!white,outer color=nandan] (lg1) at (735,922) {};
\node[legdot,shading=radial,inner color=longlin!55!white,outer color=longlin] (lg2) at (735,958) {};
\node[legdot,shading=radial,inner color=weizhou!55!white,outer color=weizhou] (lg3) at (735,995) {};
\node[legdot,shading=radial,inner color=indian!55!white,outer color=indian] (lg4) at (735,1031) {};
\node[legtext,anchor=west,right=5pt of lg1] (lt1) {Nandan};
\node[legtext,anchor=west,right=5pt of lg2] (lt2) {Longlin};
\node[legtext,anchor=west,right=5pt of lg3] (lt3) {Weizhou};
\node[legtext,anchor=west,right=5pt of lg4] (lt4) {Indian};

% ---------------- network c ----------------
\fill[pinkbg] (90.8,1030.8) rectangle (387,1388.6);
\fill[mintbg] (978.9,1374.8) rectangle (1123.1,1528.8);
\draw[framebox] (85.4,1027.3) rectangle (544,1533.2);
\draw[framebox] (618.4,1223.8) rectangle (818.8,1463.5);
\draw[framebox] (964,1169.4) rectangle (1366.8,1533.5);

\node[hap,fill=netgreen,minimum size=14pt] (c1) at (277.7,1040.4) {};
\node[pienode,minimum size=28pt] (c2) at (277.7,1123.7) {};
\node[mvec] (c3) at (277.7,1166) {};
\node[hap,fill=netgreen,minimum size=14pt] (c4) at (308.1,1138.5) {};
\node[hap,fill=nettealc,minimum size=14pt] (c5) at (172.8,1186.6) {};
\node[hap,fill=netred,minimum size=28pt] (c6) at (159.2,1225.2) {};
\node[hap,fill=netred,minimum size=14pt] (c7) at (115.3,1251.3) {};
\node[hap,fill=nettealc,minimum size=26pt] (c8) at (251.9,1217.6) {};
\node[hap,fill=nettealc,minimum size=14pt] (c9) at (270.1,1209.7) {};
\node[hap,fill=netgreen,minimum size=14pt] (c10) at (294.6,1210.4) {};
\node[hap,fill=netgreen,minimum size=22pt] (c11) at (308.1,1221.7) {};
\node[hap,fill=netgreen,minimum size=14pt] (c12) at (318.5,1236.5) {};
\node[hap,fill=netred,minimum size=14pt] (c13) at (157.7,1272.7) {};
\node[hap,fill=netred,minimum size=28pt] (c14) at (203.5,1285.4) {};
\node[hap,fill=netred,minimum size=14pt] (c15) at (217,1306.7) {};
\node[hap,fill=netred,minimum size=14pt] (c16) at (232.8,1320.8) {};
\node[hap,fill=netred,minimum size=14pt] (c17) at (256.6,1333.6) {};
\node[hap,fill=netred,minimum size=14pt] (c18) at (267.6,1293.3) {};
\node[hap,fill=netred,minimum size=14pt] (c19) at (293.4,1289.9) {};
\node[hap,fill=netred,minimum size=14pt] (c20) at (277.7,1334.6) {};
\node[hap,fill=netred,minimum size=14pt] (c21) at (277.7,1376.6) {};
\node[hap,fill=netgreen,minimum size=14pt] (c22) at (305.9,1364.5) {};
\node[hap,fill=netgreen,minimum size=14pt] (c23) at (354,1280.2) {};
\node[hap,fill=netgreen,minimum size=14pt] (c24) at (363.4,1339.8) {};
\node[pienode,minimum size=52pt] (c0) at (277.7,1251.3) {};
\node[mvec] (c25) at (480.9,1251.3) {};
\node[hap,fill=netlime,minimum size=14pt] (c26) at (480.9,1081.7) {};
\node[hap,fill=netlime,minimum size=21pt] (c27) at (480.9,1166) {};
\node[hap,fill=netgray,minimum size=15pt] (c28) at (408.7,1352.5) {};
\node[hap,fill=netgray,minimum size=14pt] (c29) at (442.6,1371.4) {};
\node[hap,fill=netgray,minimum size=14pt] (c30) at (480.9,1503.9) {};
\node[mvec] (c31) at (521.1,1251.3) {};
\node[hap,fill=netgray,minimum size=15pt] (c32) at (521.1,1418.6) {};

\node[mvec,minimum size=3.5pt] (i1) at (702.3,1251.5) {};
\node[mvec,minimum size=3.5pt] (i2) at (738.9,1251.5) {};
\node[mvec,minimum size=3.5pt] (i3) at (775.5,1251.5) {};
\node[mvec,minimum size=3.5pt] (i4) at (702.3,1289.7) {};
\node[hap,fill=netgray,minimum size=14pt] (i5) at (628.5,1289.7) {};
\node[hap,fill=netgray,minimum size=14pt] (i6) at (702.3,1442.6) {};
\node[hap,fill=netteal,minimum size=14pt] (i7) at (738.9,1327.7) {};
\node[hap,fill=netgray,minimum size=14pt] (i8) at (775.5,1327.7) {};
\coordinate (ck) at (805,1251.5);

\node[mvec,minimum size=3.5pt] (t31) at (1028.3,1251.5) {};
\node[mvec,minimum size=3.5pt] (t32) at (1100,1251.5) {};
\node[mvec,minimum size=3.5pt] (t33) at (1171.8,1251.5) {};
\node[hap,fill=netteal,minimum size=19pt] (t34) at (1028.3,1214.6) {};
\node[hap,fill=netteal,minimum size=15pt] (t35) at (1352.2,1251.5) {};
\node[mvec,minimum size=3.5pt] (t36) at (1100,1403) {};
\node[hap,fill=netpale,minimum size=14pt] (t37) at (991.8,1403) {};
\node[hap,fill=netpale,minimum size=14pt] (t38) at (1100,1516.7) {};
\node[mvec,minimum size=3.5pt] (t39) at (1171.8,1326.9) {};
\node[hap,fill=netteal,minimum size=14pt] (t40) at (1171.8,1364.6) {};
\node[hap,fill=netteal,minimum size=14pt] (t41) at (1135.9,1326.9) {};
\node[hap,fill=netyel,minimum size=14pt] (t42) at (1245.1,1326.9) {};

% pies
\fill[netgreen] (c2.center) circle[radius=14pt];
\fill[nettealc] (c2.center) -- ++(-100:14pt) arc[start angle=-100, end angle=0, radius=14pt] -- cycle;
\draw[draw=black!65, line width=0.45pt] (c2.center) circle[radius=14pt];
\fill[nettealc] (c0.center) -- ++(180:26pt) arc[start angle=180, end angle=360, radius=26pt] -- cycle;
\fill[netgreen] (c0.center) -- ++(0:26pt) arc[start angle=0, end angle=116, radius=26pt] -- cycle;
\fill[netred] (c0.center) -- ++(116:26pt) arc[start angle=116, end angle=180, radius=26pt] -- cycle;
\draw[draw=black!65, line width=0.45pt] (c0.center) circle[radius=26pt];

% links
\draw[netl] (c1) -- (c2);
\draw[netl] (c2) -- (c3);
\draw[netl] (c3) -- (c0);
\draw[netl] (c3) -- (c4);
\draw[netl] (c0) -- (c5);
\draw[netl] (c0) -- (c6);
\draw[netl] (c0) -- (c8);
\draw[netl] (c0) -- (c9);
\draw[netl] (c0) -- (c10);
\draw[netl] (c0) -- (c11);
\draw[netl] (c0) -- (c12);
\draw[netl] (c0) -- (c13);
\draw[netl] (c0) -- (c14);
\draw[netl] (c0) -- (c15);
\draw[netl] (c0) -- (c16);
\draw[netl] (c0) -- (c17);
\draw[netl] (c0) -- (c18);
\draw[netl] (c0) -- (c19);
\draw[netl] (c0) -- (c20);
\draw[netl] (c20) -- (c21);
\draw[netl] (c20) -- (c22);
\draw[netl] (c0) -- (c23);
\draw[netl] (c0) -- (c24);
\draw[mainl] (c7) -- (c0);
\draw[mainl] (c0) -- (c25);
\draw[mainl] (c25) -- (c31);
\draw[mainl] (c31) -- (i1);
\draw[mainl] (i1) -- (i2);
\draw[mainl] (i2) -- (i3);
\draw[mainl] (i3) -- (ck);
\draw[darkl] (ck) -- (t31);
\draw[darkl] (t31) -- (t32);
\draw[darkl] (t32) -- (t33);
\draw[darkl] (t33) -- (t35);
\draw[mainl,draw=black!30] (c26) -- (c27);
\draw[mainl,draw=black!30] (c27) -- (c25);
\draw[mainl,draw=black!30] (c25) -- (c30);
\draw[netl] (c25) -- (c28);
\draw[netl] (c25) -- (c29);
\draw[mainl] (c31) -- (c32);
\draw[netl,draw=black!80] (i1) -- (i4);
\draw[netl,draw=black!80] (i4) -- (i6);
\draw[mainl] (i4) -- (i5);
\draw[netl,draw=black!80] (i2) -- (i7);
\draw[netl,draw=black!80] (i3) -- (i8);
\draw[palel] (t32) -- (t36);
\draw[palel] (t36) -- (t38);
\draw[netl,line width=0.8pt] (t36) -- (t37);
\draw[netl,draw=black!55,line width=0.8pt] (t33) -- (t39);
\draw[netl,draw=black!55,line width=0.8pt] (t39) -- (t40);

% break marks
\draw[black!80, line width=0.6pt] (589.5,1257) -- (593.5,1246) (594.5,1257) -- (598.5,1246);
\draw[black!80, line width=0.6pt] (891,1257) -- (895,1246) (896,1257) -- (900,1246);

% region labels
\node[reglab] (ri1a) at (140.4,1079) {I1a};
\node[reglab] (ri1) at (113,1505.5) {I1};
\node[reglab] (ri2) at (793.6,1438) {I2};
\node[reglab] (rt4) at (1005,1506.5) {T4};
\node[reglab] (rt3) at (1335,1505) {T3};
\end{tikzpicture}
\end{document}
